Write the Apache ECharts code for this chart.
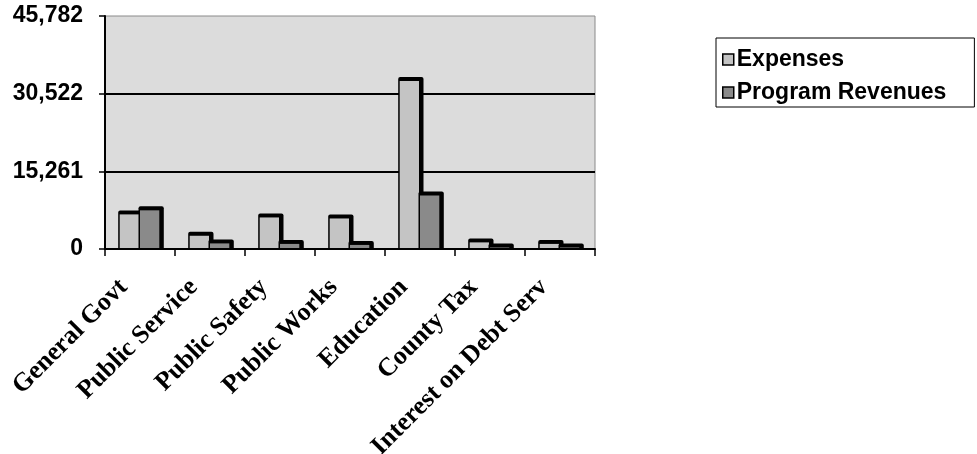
<!DOCTYPE html>
<html>
<head>
<meta charset="utf-8">
<script src="https://cdn.jsdelivr.net/npm/echarts@6/dist/echarts.min.js"></script>
<style>
html,body{margin:0;padding:0;background:#fff;}
#chart{width:977px;height:454px;}
</style>
</head>
<body>
<div id="chart"></div>
<script>
var categories = ['General Govt', 'Public Service', 'Public Safety', 'Public Works', 'Education', 'County Tax', 'Interest on Debt Serv'];
var expenses = [6800, 2600, 6200, 6000, 33000, 1300, 1000];
var programRevenues = [7600, 1100, 1000, 800, 10500, 300, 300];
var yTickLabels = ['0', '15,261', '30,522', '45,782'];
var yMax = 45782;

var chart = echarts.init(document.getElementById('chart'));

function toPairs(arr) {
  return arr.map(function (v, i) { return [i, v]; });
}

function renderBar(params, api) {
  var idx = api.value(0);
  var val = api.value(1);
  var topPt = api.coord([idx, val]);
  var basePt = api.coord([idx, 0]);
  var bw = api.size([1, 0])[0] * 0.29;
  var left = params.seriesIndex === 0 ? topPt[0] - bw : topPt[0];
  var h = basePt[1] - topPt[1];
  return {
    type: 'group',
    children: [
      { type: 'rect', shape: { x: left - 1.5, y: topPt[1] - 4, width: bw + 5, height: h + 4, r: [2, 2, 0, 0] }, style: { fill: '#000' } },
      { type: 'rect', shape: { x: left, y: topPt[1], width: bw - 1, height: h }, style: { fill: api.visual('color') } }
    ]
  };
}

chart.setOption({
  animation: false,
  backgroundColor: '#fff',
  grid: {
    left: 105, right: 382, top: 16, bottom: 205,
    containLabel: false,
    outerBoundsMode: 'none',
    show: true, backgroundColor: '#dcdcdc', borderColor: '#8a8a8a', borderWidth: 1
  },
  legend: {
    orient: 'vertical',
    left: 716, top: 38,
    padding: [10, 28, 3, 6],
    itemWidth: 11, itemHeight: 11, itemGap: 10,
    borderColor: '#000', borderWidth: 1,
    icon: 'rect',
    textStyle: { fontFamily: 'Liberation Sans', fontWeight: 'bold', fontSize: 23, color: '#000', padding: [0, 0, 0, -2] },
    data: [
      { name: 'Expenses', itemStyle: { color: '#c4c4c4', borderColor: '#000', borderWidth: 1.5 } },
      { name: 'Program Revenues', itemStyle: { color: '#8a8a8a', borderColor: '#000', borderWidth: 1.5 } }
    ]
  },
  xAxis: {
    type: 'category',
    data: categories,
    boundaryGap: true,
    z: 5,
    axisLine: { lineStyle: { color: '#000', width: 2 } },
    axisTick: { show: true, length: 7, lineStyle: { color: '#000', width: 1.5 } },
    axisLabel: {
      interval: 0, rotate: 45, margin: 18,
      padding: [0, 23, 0, 0],
      fontFamily: 'Liberation Serif', fontWeight: 'bold', fontSize: 26, color: '#000'
    }
  },
  yAxis: {
    type: 'value',
    min: 0, max: yMax, interval: yMax / 3,
    axisLine: { show: true, lineStyle: { color: '#000', width: 2 } },
    axisTick: { show: true, length: 6, lineStyle: { color: '#000', width: 1.5 } },
    splitLine: { show: true, lineStyle: { color: ['#000', '#000', '#000', 'transparent'], width: 2 } },
    axisLabel: {
      margin: 22,
      fontFamily: 'Liberation Sans', fontWeight: 'bold', fontSize: 23, color: '#000',
      formatter: function (v) { return yTickLabels[Math.round(v / (yMax / 3))]; }
    }
  },
  series: [
    { name: 'Expenses', type: 'custom', renderItem: renderBar, data: toPairs(expenses), encode: { x: 0, y: 1 }, itemStyle: { color: '#c4c4c4' } },
    { name: 'Program Revenues', type: 'custom', renderItem: renderBar, data: toPairs(programRevenues), encode: { x: 0, y: 1 }, itemStyle: { color: '#8a8a8a' } }
  ]
});
</script>
</body>
</html>
